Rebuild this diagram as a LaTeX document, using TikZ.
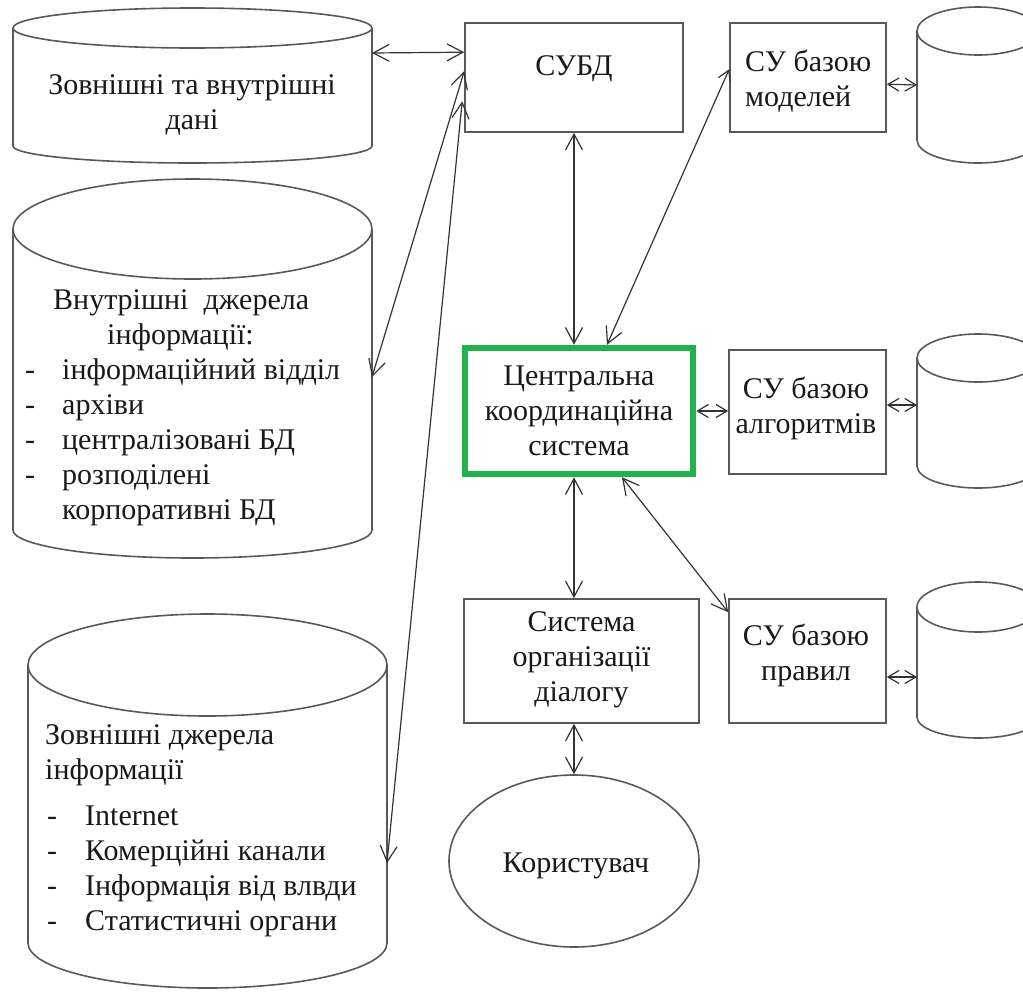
\documentclass[tikz,border=0pt]{standalone}
\usepackage{fontspec}
\setmainfont{Liberation Serif}
\usetikzlibrary{arrows.meta,shapes.geometric}

\definecolor{hubgreen}{RGB}{34,177,76}

\tikzset{
  box/.style={draw=black!65, line width=1.6pt, rectangle, inner sep=0pt},
  hub/.style={draw=hubgreen, line width=6.5pt, rectangle, inner sep=0pt},
  drum/.style={draw=black!65, line width=1.6pt},
  lbl/.style={font=\fontsize{30}{35}\selectfont, text=black!90, inner sep=0pt},
  bigtip/.style={Straight Barb[length=16pt,width=17pt]},
  smalltip/.style={Straight Barb[length=11pt,width=13pt]},
  link/.style={draw=black!80, line width=1.2pt, {Straight Barb[length=16pt,width=17pt]}-{Straight Barb[length=16pt,width=17pt]}},
  slink/.style={draw=black!80, line width=1.2pt, {Straight Barb[length=11pt,width=13pt]}-{Straight Barb[length=11pt,width=13pt]}},
  mlink/.style={draw=black!80, line width=1.2pt, {Straight Barb[length=11pt,width=13pt]}-{Straight Barb[length=16pt,width=17pt]}},
}

% cylinder: centre x, x radius, top y, top y radius, bottom y, bottom y radius
\newcommand\drawdrum[6]{%
  \draw[drum] (#1,#3) ellipse[x radius=#2pt, y radius=#4pt];
  \draw[drum] (#1-#2,#3) -- (#1-#2,#5)
    arc[start angle=180, end angle=360, x radius=#2pt, y radius=#6pt]
    -- (#1+#2,#3);
}

\begin{document}
\begin{tikzpicture}[x=1pt, y=-1pt]
\fill[white] (0,0) rectangle (1023,991);
\clip (0,0) rectangle (1023,991);

% data stores on the left
\drawdrum{192.5}{179.5}{28}{20}{146}{17}
\drawdrum{192.5}{179.5}{229}{50}{530}{28}
\drawdrum{207.5}{179.5}{665}{51}{943}{45}
% knowledge bases on the right
\drawdrum{978}{61}{31}{24}{140}{23}
\drawdrum{978}{61}{358}{24}{466}{22}
\drawdrum{978}{61}{607}{25}{717}{21}

\coordinate (c1e) at (372,53);
\coordinate (c2e) at (372,377);
\coordinate (c3e) at (387,863);
\coordinate (r1w) at (917,85);
\coordinate (r2w) at (917,405);
\coordinate (r3w) at (917,677);

\node[lbl, align=center] (c1txt) at (192,105) {Зовнішні та внутрішні\\дані};
\node[lbl, align=left, anchor=west] (c2txt) at (25,408)
  {\hspace*{28pt}Внутрішні\ \ джерела\\
   \hspace*{82pt}інформації:\\
   \makebox[37pt][l]{-}інформаційний відділ\\
   \makebox[37pt][l]{-}архіви\\
   \makebox[37pt][l]{-}централізовані БД\\
   \makebox[37pt][l]{-}розподілені\\
   \hspace*{37pt}корпоративні БД};
\node[lbl, align=left, anchor=west] (c3txt) at (45,831)
  {Зовнішні джерела\\
   інформації\\[11pt]
   \hspace*{2pt}\makebox[38pt][l]{-}Internet\\
   \hspace*{2pt}\makebox[38pt][l]{-}Комерційні канали\\
   \hspace*{2pt}\makebox[38pt][l]{-}Інформація від влвди\\
   \hspace*{2pt}\makebox[38pt][l]{-}Статистичні органи};

% processing blocks
\node[box, minimum width=218pt, minimum height=109pt] (subd) at (574,77.5) {};
\node[lbl] (subdtxt) at (574,69) {СУБД};

\node[box, minimum width=156pt, minimum height=109pt] (models) at (808,77.5) {};
\node[lbl, align=left, anchor=west] (modelstxt) at (745,81) {СУ базою\\моделей};

\node[hub, minimum width=228pt, minimum height=126pt] (central) at (579,411) {};
\node[lbl, align=center] (centraltxt) at (579,411) {Центральна\\координаційна\\система};

\node[box, minimum width=157pt, minimum height=124pt] (algo) at (807.5,412) {};
\node[lbl, align=center] (algotxt) at (806,408.5) {СУ базою\\алгоритмів};

\node[box, minimum width=235pt, minimum height=124pt] (dialog) at (581.5,661) {};
\node[lbl, align=center] (dialogtxt) at (581.5,660) {Система\\організації\\діалогу};

\node[box, minimum width=157pt, minimum height=124pt] (rules) at (807.5,661) {};
\node[lbl, align=center] (rulestxt) at (806,655.5) {СУ базою\\правил};

\node[box, ellipse, minimum width=250pt, minimum height=172pt] (user) at (574,861) {};
\node[lbl] (usertxt) at (576,866) {Користувач};

% connectors
\draw[link] (c1e) -- ([yshift=-30pt]subd.north west);
\draw[link] ([yshift=-49pt]subd.north west) -- (c2e);
\draw[link] ([xshift=-2pt,yshift=-79pt]subd.north west) -- (c3e);
\draw[link] (subd.south) -- (subd.south |- central.north);
\draw[mlink] ([yshift=-47pt]models.north west) -- ([xshift=28pt]central.north);
\draw[slink] ([yshift=-62pt]models.north east) -- (r1w);
\draw[slink] (central.east) -- (central.east -| algo.west);
\draw[slink] (r2w -| algo.east) -- (r2w);
\draw[link] ([xshift=-5pt]central.south) -- ([xshift=-5pt]central.south |- dialog.north);
\draw[link] ([xshift=43pt]central.south) -- ([yshift=-14pt]rules.north west);
\draw[slink] (r3w -| rules.east) -- (r3w);
\draw[link] (user.north |- dialog.south) -- (user.north);
\end{tikzpicture}
\end{document}
